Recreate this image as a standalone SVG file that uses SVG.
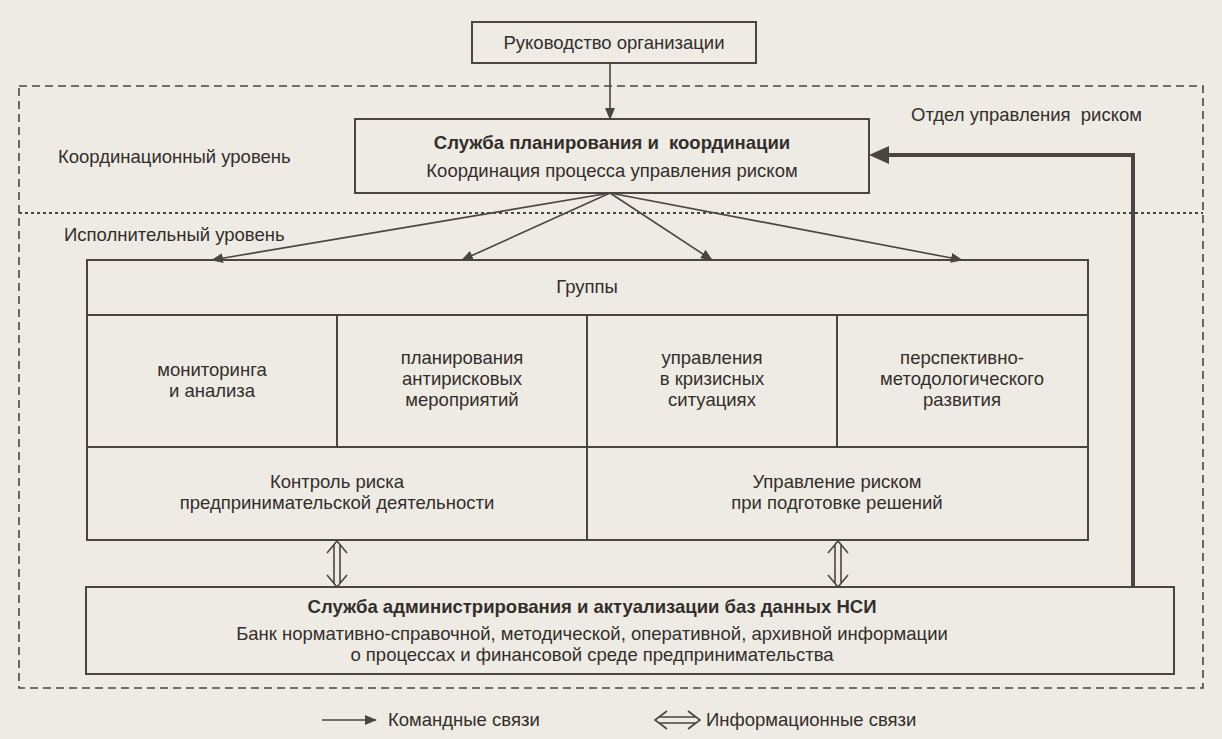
<svg xmlns="http://www.w3.org/2000/svg" width="1222" height="739" viewBox="0 0 1222 739">
<defs>
<style>
.bg{fill:#eeebe4}
.box{fill:none;stroke:#4a4541;stroke-width:2}
.ln{fill:none;stroke:#4a4541;stroke-width:1.6}
.t{font-family:"Liberation Sans",Arial,sans-serif;font-size:18.5px;fill:#332e2b;white-space:pre}
.c{text-anchor:middle}
.b{font-weight:bold}
.dash{fill:none;stroke:#4a4541;stroke-width:1.6;stroke-dasharray:8 5}
.dot{fill:none;stroke:#4a4541;stroke-width:2;stroke-dasharray:3 3}
.dbl{fill:none;stroke:#4a4541;stroke-width:1.6;stroke-linejoin:miter}
</style>
<marker id="ah" markerWidth="12" markerHeight="10" refX="11" refY="5" orient="auto" markerUnits="userSpaceOnUse">
<path d="M0,0 L12,5 L0,10 Z" fill="#4a4541"/>
</marker>
</defs>
<rect class="bg" x="0" y="0" width="1222" height="739"/>

<g id="frame">
<rect class="dash" x="19" y="86" width="1184" height="602"/>
<line class="dot" x1="19" y1="213" x2="1203" y2="213"/>
<text class="t" x="58" y="163">Координационный уровень</text>
<text class="t" x="64" y="241">Исполнительный уровень</text>
<text class="t" x="911" y="121" xml:space="preserve">Отдел управления  риском</text>
</g>

<g id="node-top">
<rect class="box" x="472" y="22" width="284" height="41"/>
<text class="t c" x="614" y="49">Руководство организации</text>
</g>

<g id="node-service">
<rect class="box" x="355" y="119" width="514" height="74"/>
<text class="t c b" x="612" y="149" xml:space="preserve">Служба планирования и  координации</text>
<text class="t c" x="612" y="177">Координация процесса управления риском</text>
</g>

<g id="node-groups">
<rect class="box" x="87" y="260" width="1001" height="280"/>
<line class="box" x1="87" y1="315" x2="1088" y2="315"/>
<line class="box" x1="87" y1="447" x2="1088" y2="447"/>
<line class="box" x1="337" y1="315" x2="337" y2="447"/>
<line class="box" x1="587" y1="315" x2="587" y2="540"/>
<line class="box" x1="837" y1="315" x2="837" y2="447"/>
<text class="t c" x="587" y="293">Группы</text>
</g>

<g id="node-g1">
<text class="t c" x="212" y="376">мониторинга</text>
<text class="t c" x="212" y="397">и анализа</text>
</g>
<g id="node-g2">
<text class="t c" x="462" y="364">планирования</text>
<text class="t c" x="462" y="385">антирисковых</text>
<text class="t c" x="462" y="406">мероприятий</text>
</g>
<g id="node-g3">
<text class="t c" x="712" y="364">управления</text>
<text class="t c" x="712" y="385">в кризисных</text>
<text class="t c" x="712" y="406">ситуациях</text>
</g>
<g id="node-g4">
<text class="t c" x="962" y="364">перспективно-</text>
<text class="t c" x="962" y="385">методологического</text>
<text class="t c" x="962" y="406">развития</text>
</g>
<g id="node-control">
<text class="t c" x="337" y="488">Контроль риска</text>
<text class="t c" x="337" y="509">предпринимательской деятельности</text>
</g>
<g id="node-decisions">
<text class="t c" x="837" y="488">Управление риском</text>
<text class="t c" x="837" y="509">при подготовке решений</text>
</g>

<g id="node-nsi">
<rect class="box" x="86" y="587" width="1088" height="87"/>
<text class="t c b" x="592" y="613">Служба администрирования и актуализации баз данных НСИ</text>
<text class="t c" x="592" y="640">Банк нормативно-справочной, методической, оперативной, архивной информации</text>
<text class="t c" x="592" y="661">о процессах и финансовой среде предпринимательства</text>
</g>

<g id="connectors">
<line class="ln" x1="610" y1="63" x2="610" y2="119" marker-end="url(#ah)"/>
<line class="ln" x1="610" y1="193" x2="212" y2="260" marker-end="url(#ah)"/>
<line class="ln" x1="610" y1="193" x2="462" y2="260" marker-end="url(#ah)"/>
<line class="ln" x1="610" y1="193" x2="712" y2="260" marker-end="url(#ah)"/>
<line class="ln" x1="610" y1="193" x2="962" y2="260" marker-end="url(#ah)"/>
<polyline fill="none" stroke="#4a4541" stroke-width="4" points="1133,587 1133,155 885,155"/>
<path d="M869,155 L889,146 L889,164 Z" fill="#4a4541"/>
<path class="dbl" d="M327,553 L337,541 L347,553 M334,545 L334,583 M340,545 L340,583 M327,575 L337,587 L347,575"/>
<path class="dbl" d="M828,553 L838,541 L848,553 M835,545 L835,583 M841,545 L841,583 M828,575 L838,587 L848,575"/>
</g>

<g id="legend">
<line class="ln" x1="322" y1="720" x2="376" y2="720" marker-end="url(#ah)"/>
<text class="t" x="388" y="726">Командные связи</text>
<path class="dbl" d="M667,711 L655,720 L667,729 M659,717 L696,717 M659,723 L696,723 M688,711 L700,720 L688,729"/>
<text class="t" x="706" y="726">Информационные связи</text>
</g>
</svg>
